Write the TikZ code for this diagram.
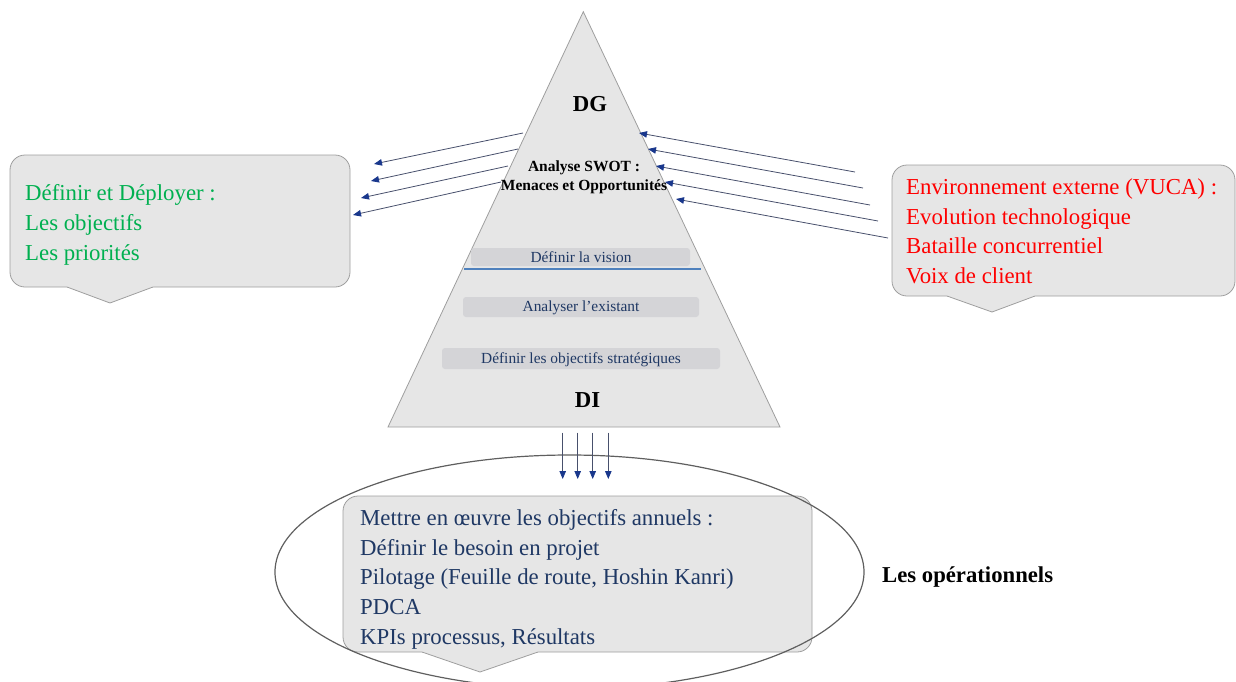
\documentclass[tikz,border=0pt]{standalone}
\usepackage{fontspec}
\setmainfont{Liberation Serif}
\usetikzlibrary{arrows.meta,shapes.geometric}

\definecolor{shapefill}{RGB}{230,230,230}
\definecolor{barfill}{RGB}{212,212,215}
\definecolor{edgegray}{RGB}{158,158,158}
\definecolor{ellgray}{RGB}{95,95,95}
\definecolor{navytext}{RGB}{31,56,100}
\definecolor{tipblue}{RGB}{25,55,140}
\definecolor{linegray}{RGB}{72,80,108}
\definecolor{greentext}{RGB}{0,176,80}
\definecolor{redtext}{RGB}{255,0,0}
\definecolor{visionline}{RGB}{79,129,189}

\begin{document}
\begin{tikzpicture}[x=1pt,y=-1pt,
  box/.style={draw=edgegray, line width=0.8pt, fill=shapefill, rounded corners=15pt, inner sep=0pt},
  pointerfill/.style={fill=shapefill},
  pointeredge/.style={draw=edgegray, line width=0.8pt},
  bar/.style={fill=barfill, rounded corners=3pt, inner sep=0pt},
  bartext/.style={font=\fontsize{15.4}{18}\selectfont, text=navytext, inner sep=0pt, anchor=base},
  bigtext/.style={font=\fontsize{22.8}{29.6}\selectfont, align=left, inner sep=0pt, anchor=north west},
  level/.style={font=\bfseries\fontsize{22.8}{26}\selectfont, inner sep=0pt},
  flow/.style={draw=linegray, line width=0.8pt, -{Triangle[length=8pt,width=6.5pt,color=tipblue]}},
]
\useasboundingbox (0,0) rectangle (1236,681);

% pyramid
\coordinate (apex) at (583.3,11.7);
\coordinate (baseL) at (388,427);
\coordinate (baseR) at (780,427);
\draw[draw=edgegray, line width=0.8pt, fill=shapefill] (apex) -- (baseR) -- (baseL) -- cycle;

\node[level] (dg) at (590,104) {DG};
\node[level] (di) at (587.5,400) {DI};

\node[font=\bfseries\fontsize{15.5}{19}\selectfont, align=center, inner sep=0pt, anchor=base] (swot) at (584,190.5)
  {Analyse SWOT :\\Menaces et Opportunités};

% steps inside the pyramid
\node[bar, minimum width=219, minimum height=18] (vision) at (580.5,257) {};
\node[bartext] (visiontxt) at (581,262.7) {Définir la vision};
\draw[draw=visionline, line width=1.1pt] (464,269) -- (701,269);
\node[bar, minimum width=236, minimum height=20] (exist) at (581,307) {};
\node[bartext] (existtxt) at (581,311.7) {Analyser l’existant};
\node[bar, minimum width=278, minimum height=21] (strat) at (581,358.5) {};
\node[bartext] (strattxt) at (581,363.3) {Définir les objectifs stratégiques};

% left callout
\node[box, minimum width=340, minimum height=132] (leftbox) at (180,221) {};
\fill[pointerfill] (67,286.2) -- (67,287) -- (110,303) -- (153,287) -- (153,286.2) -- cycle;
\draw[pointeredge] (67,287) -- (110,303) -- (153,287);
\node[bigtext, text=greentext] (goals) at (25,180.7)
  {\rule{0pt}{20pt}Définir et Déployer :\\Les objectifs\\Les priorités};

% right callout
\node[box, minimum width=343, minimum height=131] (rightbox) at (1063.5,230.5) {};
\fill[pointerfill] (947,295.2) -- (947,296) -- (992,312) -- (1035,296) -- (1035,295.2) -- cycle;
\draw[pointeredge] (947,296) -- (992,312) -- (1035,296);
\node[bigtext, text=redtext] (env) at (906,174.3)
  {\rule{0pt}{20pt}Environnement externe (VUCA) :\\Evolution technologique\\Bataille concurrentiel\\Voix de client};

% bottom callout
\node[box, minimum width=469, minimum height=156] (botbox) at (577.5,574) {};
\fill[pointerfill] (422,651.2) -- (422,652) -- (480,672) -- (538,652) -- (538,651.2) -- cycle;
\draw[pointeredge] (422,652) -- (480,672) -- (538,652);
\node[bigtext, text=navytext] (plan) at (360,505.5)
  {\rule{0pt}{20pt}Mettre en œuvre les objectifs annuels :\\Définir le besoin en projet\\Pilotage (Feuille de route, Hoshin Kanri)\\PDCA\\KPIs processus, Résultats};

% operational level
\node[draw=ellgray, line width=1.2pt, ellipse, minimum width=589, minimum height=234, inner sep=0pt] (ops) at (569.5,572) {};
\node[font=\bfseries\fontsize{22.7}{26}\selectfont, inner sep=0pt, anchor=base west] (opslabel) at (882,582.7) {Les opérationnels};

% outgoing arrows towards the left callout
\coordinate (la1) at (523,133); \coordinate (lb1) at (374,164);
\coordinate (la2) at (518,149); \coordinate (lb2) at (371,181);
\coordinate (la3) at (508,166); \coordinate (lb3) at (361,198);
\coordinate (la4) at (501,182); \coordinate (lb4) at (353,215);
\foreach \i in {1,...,4} \draw[flow] (la\i) -- (lb\i);

% incoming arrows from the external environment
\coordinate (ra1) at (855,172); \coordinate (rb1) at (639,133);
\coordinate (ra2) at (863,188); \coordinate (rb2) at (648,149);
\coordinate (ra3) at (870,205); \coordinate (rb3) at (656,166);
\coordinate (ra4) at (878,221); \coordinate (rb4) at (665,182);
\coordinate (ra5) at (888,238); \coordinate (rb5) at (676,199);
\foreach \i in {1,...,5} \draw[flow] (ra\i) -- (rb\i);

% deployment down to the operational level
\foreach \i/\x in {1/562.7,2/577.7,3/592.7,4/608.3}{
  \coordinate (da\i) at (\x,432.7);
  \coordinate (db\i) at (\x,479);
  \draw[flow] (da\i) -- (db\i);
}
\end{tikzpicture}
\end{document}
